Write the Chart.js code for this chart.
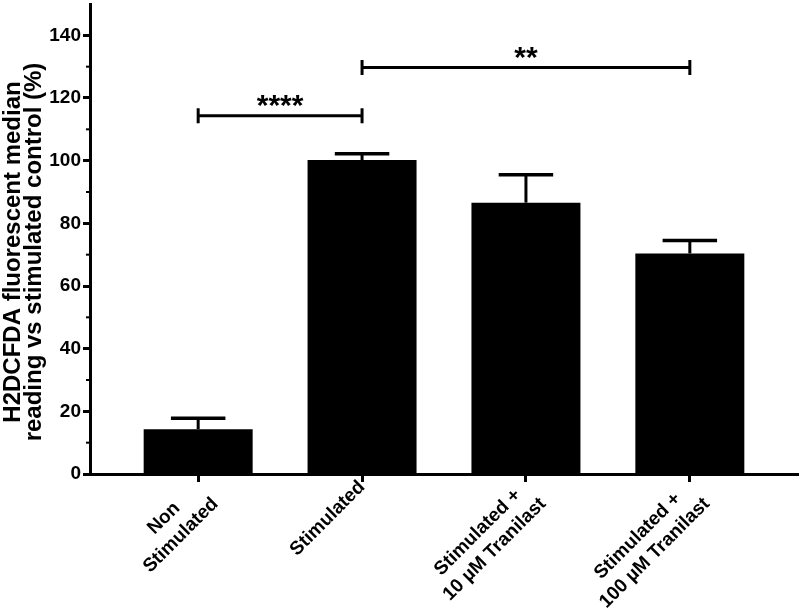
<!DOCTYPE html>
<html>
<head>
<meta charset="utf-8">
<script src="https://cdn.jsdelivr.net/npm/chart.js@4.4.1/dist/chart.umd.min.js"></script>
<style>
html,body{margin:0;padding:0;background:#fff;overflow:hidden;}
#wrap{position:absolute;left:0;top:0;width:800px;height:611px;}
</style>
</head>
<body>
<div id="wrap"><canvas id="c" width="800" height="611"></canvas></div>
<script>
// ---- data ----
const categories = [
  ['Non', 'Stimulated'],
  ['Stimulated'],
  ['Stimulated +', '10 µM Tranilast'],
  ['Stimulated +', '100 µM Tranilast']
];
const means = [14.3, 100.2, 86.6, 70.4];
const errorUpper = [17.8, 102.2, 95.5, 74.5];
const yTicks = [0, 20, 40, 60, 80, 100, 120, 140];
const yMinorTicks = [10, 30, 50, 70, 90, 110, 130];
const yTitle = ['H2DCFDA fluorescent median', 'reading vs stimulated control (%)'];
const bracketFrom = [0, 1];
const bracketTo = [1, 3];
const bracketY = [114.3, 129.7];
const bracketLabel = ['****', '**'];

const FONT = "'Liberation Sans', Arial, Helvetica, sans-serif";

const extras = {
  id: 'extras',
  afterDatasetsDraw(chart) {
    const ctx = chart.ctx;
    const xs = chart.scales.x, ys = chart.scales.y;
    const meta = chart.getDatasetMeta(0);
    ctx.save();
    ctx.strokeStyle = '#000';
    ctx.fillStyle = '#000';
    ctx.lineCap = 'butt';
    // error bars
    means.forEach((m, i) => {
      const px = xs.getPixelForValue(i);
      const bw = meta.data[i].width;
      const yb = ys.getPixelForValue(m);
      const yt = ys.getPixelForValue(errorUpper[i]);
      ctx.lineWidth = 3;
      ctx.beginPath();
      ctx.moveTo(px, yb);
      ctx.lineTo(px, yt);
      ctx.stroke();
      ctx.lineWidth = 3.5;
      ctx.beginPath();
      ctx.moveTo(px - bw * 0.25, yt);
      ctx.lineTo(px + bw * 0.25, yt);
      ctx.stroke();
    });
    // significance brackets
    bracketFrom.forEach((f, k) => {
      const x1 = xs.getPixelForValue(f);
      const x2 = xs.getPixelForValue(bracketTo[k]);
      const y = ys.getPixelForValue(bracketY[k]);
      ctx.lineWidth = 3;
      ctx.beginPath();
      ctx.moveTo(x1, y); ctx.lineTo(x2, y);
      ctx.moveTo(x1, y - 7.5); ctx.lineTo(x1, y + 7.5);
      ctx.moveTo(x2, y - 7.5); ctx.lineTo(x2, y + 7.5);
      ctx.stroke();
      ctx.font = 'bold 30px ' + FONT;
      ctx.textAlign = 'center';
      ctx.textBaseline = 'alphabetic';
      ctx.fillText(bracketLabel[k], (x1 + x2) / 2, y - 1);
    });
    // minor ticks on y axis
    ctx.lineWidth = 2;
    yMinorTicks.forEach(v => {
      const py = ys.getPixelForValue(v);
      ctx.beginPath();
      ctx.moveTo(ys.right - 4, py);
      ctx.lineTo(ys.right, py);
      ctx.stroke();
    });
    // x category labels, rotated 45°, lines centred on each other
    ctx.font = 'bold 19px ' + FONT;
    ctx.textAlign = 'center';
    ctx.textBaseline = 'middle';
    const lh = 24;
    const y0 = ys.getPixelForValue(0) + 10;
    categories.forEach((lines, i) => {
      const px = xs.getPixelForValue(i);
      const W = Math.max(...lines.map(t => ctx.measureText(t).width));
      ctx.save();
      ctx.translate(px, y0);
      ctx.rotate(-Math.PI / 4);
      lines.forEach((t, j) => ctx.fillText(t, -W / 2, j * lh));
      ctx.restore();
    });
    // y axis title
    ctx.font = 'bold 24px ' + FONT;
    ctx.textAlign = 'center';
    ctx.textBaseline = 'middle';
    ctx.save();
    ctx.translate(0, 252);
    ctx.rotate(-Math.PI / 2);
    yTitle.forEach((t, j) => ctx.fillText(t, 0, 13 + j * 21));
    ctx.restore();
    ctx.restore();
  }
};

new Chart(document.getElementById('c'), {
  type: 'bar',
  data: {
    datasets: [{
      data: means.map((v, i) => ({ x: i, y: v })),
      backgroundColor: '#000',
      borderWidth: 0,
      barPercentage: 0.665,
      categoryPercentage: 1
    }]
  },
  options: {
    responsive: false,
    animation: false,
    devicePixelRatio: 1,
    layout: { padding: { top: 4, right: 2, left: 0, bottom: 0 } },
    plugins: { legend: { display: false }, tooltip: { enabled: false } },
    scales: {
      x: {
        type: 'linear',
        offset: false,
        min: -0.66,
        max: 3.66,
        afterBuildTicks: s => { s.ticks = categories.map((_, i) => ({ value: i })); },
        afterFit: s => { s.height = 137; s.paddingLeft = 0; s.paddingRight = 0; },
        ticks: { display: false },
        grid: { display: true, offset: false, drawOnChartArea: false, drawTicks: true, tickLength: 8, tickWidth: 3, tickColor: '#000' },
        border: { display: true, color: '#000', width: 3 }
      },
      y: {
        min: 0,
        max: 150,
        afterBuildTicks: s => { s.ticks = yTicks.map(v => ({ value: v })); },
        afterFit: s => { s.width = 90; s.paddingTop = 0; s.paddingBottom = 0; },
        ticks: {
          color: '#000',
          font: { family: FONT, size: 19, weight: 'bold' },
          padding: 2
        },
        grid: { display: true, drawOnChartArea: false, drawTicks: true, tickLength: 7, tickWidth: 3, tickColor: '#000' },
        border: { display: true, color: '#000', width: 3 }
      }
    }
  },
  plugins: [extras]
});
</script>
</body>
</html>
